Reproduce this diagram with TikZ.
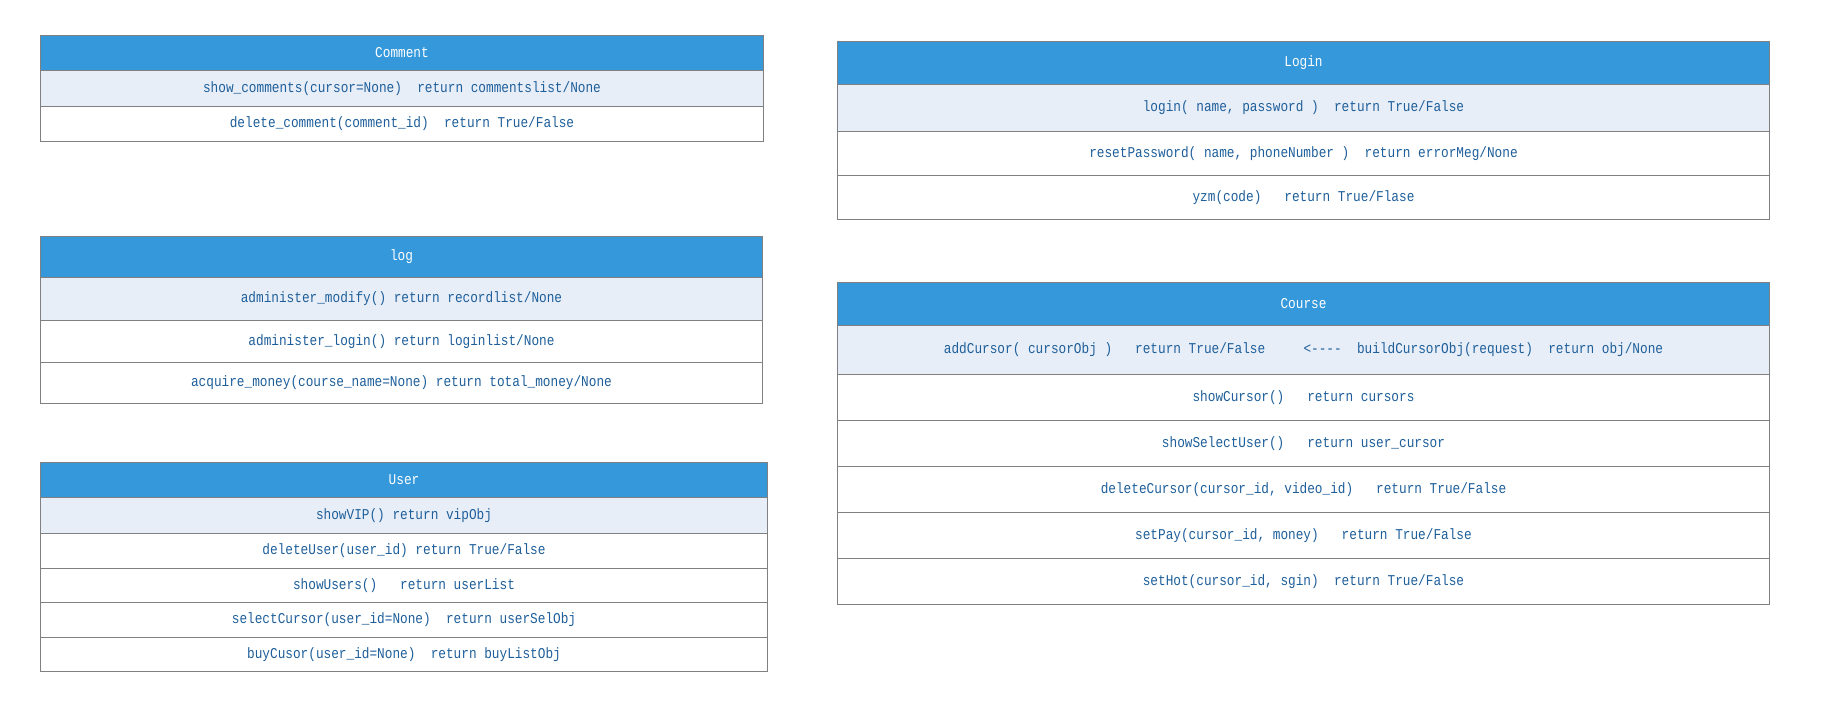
\documentclass[tikz,border=0pt]{standalone}
\usepackage{fontspec}
\newfontfamily\codefont{Liberation Mono}[FakeStretch=0.85]
\definecolor{hdrblue}{RGB}{53,152,219}
\definecolor{rowblue}{RGB}{232,238,247}
\definecolor{bordergray}{RGB}{128,128,128}
\definecolor{txtblue}{RGB}{30,95,155}
\newcommand{\dsh}{-\kern0pt}
\begin{document}
\begin{tikzpicture}[x=1pt,y=-1pt,
  cell/.style={draw=bordergray, line width=1pt, inner sep=0pt, outer sep=0pt,
    anchor=north west, font=\codefont\fontsize{15}{18}\selectfont, text=txtblue},
  hdr/.style={cell, fill=hdrblue, text=white},
  hl/.style={cell, fill=rowblue},
  plain/.style={cell, fill=white}]
\useasboundingbox[fill=white] (0,0) rectangle (1831,726);

% Comment
\begin{scope}[every node/.append style={minimum width=723pt}]
\node[hdr, minimum height=35pt] (cmH) at (40.5,35.5) {Comment};
\node[hl, minimum height=36pt] (cm1) at (40.5,70.5) {show\_comments(cursor=None)~~return commentslist/None};
\node[plain, minimum height=35pt] (cm2) at (40.5,106.5) {delete\_comment(comment\_id)~~return True/False};
\end{scope}

% log
\begin{scope}[every node/.append style={minimum width=722pt}]
\node[hdr, minimum height=41pt] (lgH) at (40.5,236.5) {log};
\node[hl, minimum height=43pt] (lg1) at (40.5,277.5) {administer\_modify() return recordlist/None};
\node[plain, minimum height=42pt] (lg2) at (40.5,320.5) {administer\_login() return loginlist/None};
\node[plain, minimum height=41pt] (lg3) at (40.5,362.5) {acquire\_money(course\_name=None) return total\_money/None};
\end{scope}

% User
\begin{scope}[every node/.append style={minimum width=727pt}]
\node[hdr, minimum height=35pt] (usH) at (40.5,462.5) {User};
\node[hl, minimum height=36pt] (us1) at (40.5,497.5) {showVIP() return vipObj};
\node[plain, minimum height=35pt] (us2) at (40.5,533.5) {deleteUser(user\_id) return True/False};
\node[plain, minimum height=34pt] (us3) at (40.5,568.5) {showUsers()~~~return userList};
\node[plain, minimum height=35pt] (us4) at (40.5,602.5) {selectCursor(user\_id=None)~~return userSelObj};
\node[plain, minimum height=34pt] (us5) at (40.5,637.5) {buyCusor(user\_id=None)~~return buyListObj};
\end{scope}

% Login
\begin{scope}[every node/.append style={minimum width=932pt}]
\node[hdr, minimum height=43pt] (liH) at (837.5,41.5) {Login};
\node[hl, minimum height=47pt] (li1) at (837.5,84.5) {login(~name, password~)~~return True/False};
\node[plain, minimum height=44pt] (li2) at (837.5,131.5) {resetPassword(~name, phoneNumber~)~~return errorMeg/None};
\node[plain, minimum height=44pt] (li3) at (837.5,175.5) {yzm(code)~~~return True/Flase};
\end{scope}

% Course
\begin{scope}[every node/.append style={minimum width=932pt}]
\node[hdr, minimum height=43pt] (coH) at (837.5,282.5) {Course};
\node[hl, minimum height=49pt] (co1) at (837.5,325.5) {addCursor(~cursorObj~)~~~return True/False~~~~~<\dsh\dsh\dsh\dsh~~buildCursorObj(request)~~return obj/None};
\node[plain, minimum height=46pt] (co2) at (837.5,374.5) {showCursor()~~~return cursors};
\node[plain, minimum height=46pt] (co3) at (837.5,420.5) {showSelectUser()~~~return user\_cursor};
\node[plain, minimum height=46pt] (co4) at (837.5,466.5) {deleteCursor(cursor\_id, video\_id)~~~return True/False};
\node[plain, minimum height=46pt] (co5) at (837.5,512.5) {setPay(cursor\_id, money)~~~return True/False};
\node[plain, minimum height=46pt] (co6) at (837.5,558.5) {setHot(cursor\_id, sgin)~~return True/False};
\end{scope}
\end{tikzpicture}
\end{document}
